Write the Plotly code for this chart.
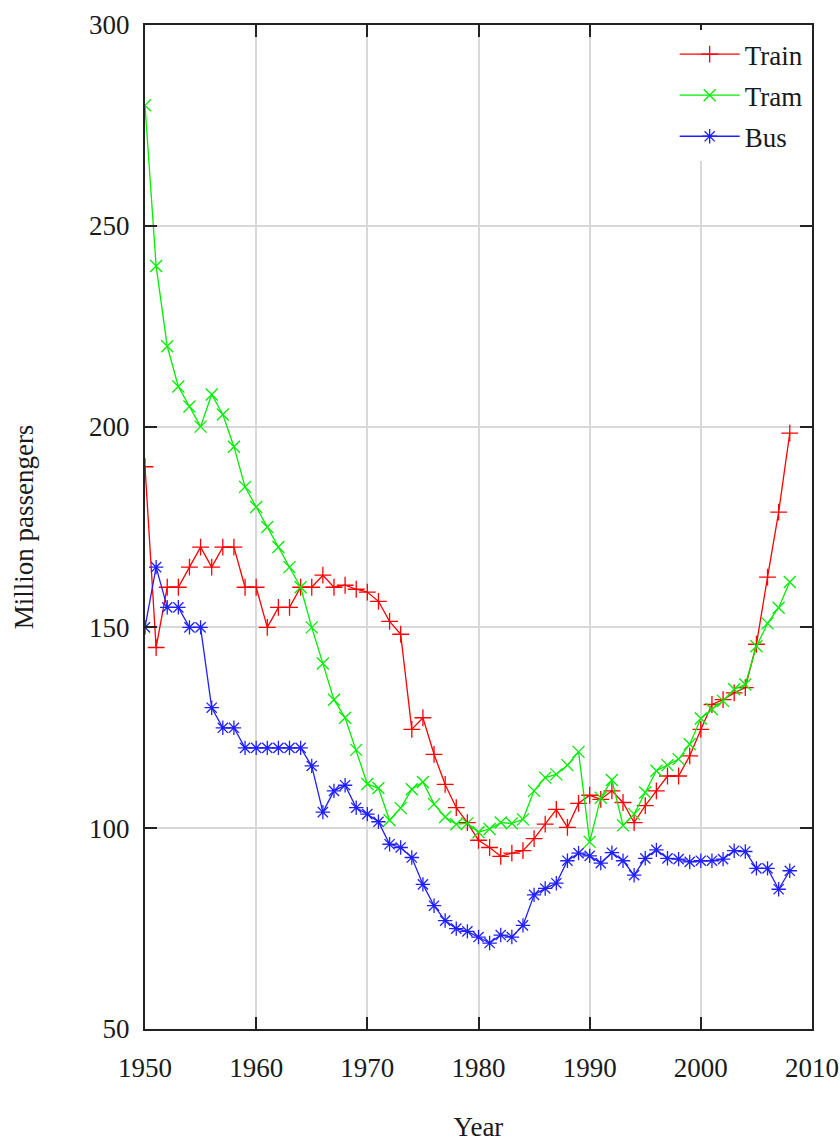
import plotly.graph_objects as go

years = [1950, 1951, 1952, 1953, 1954, 1955, 1956, 1957, 1958, 1959,
         1960, 1961, 1962, 1963, 1964, 1965, 1966, 1967, 1968, 1969,
         1970, 1971, 1972, 1973, 1974, 1975, 1976, 1977, 1978, 1979,
         1980, 1981, 1982, 1983, 1984, 1985, 1986, 1987, 1988, 1989,
         1990, 1991, 1992, 1993, 1994, 1995, 1996, 1997, 1998, 1999,
         2000, 2001, 2002, 2003, 2004, 2005, 2006, 2007, 2008]

train = [190, 145, 160, 160, 165, 170, 165, 170, 170, 160,
         160, 150, 155, 155, 160, 160, 163, 160, 160.5, 159.5,
         158.8, 156.5, 151.5, 148.3, 124.6, 127.5, 118.4, 110.9, 105.1, 101.4,
         97, 95.2, 93, 93.8, 94.4, 97.4, 101, 104.7, 100.2, 106.2,
         108.2, 107.2, 109.3, 106.4, 101.4, 105.6, 109.3, 113, 113, 118,
         124.6, 130.8, 132, 133.7, 135, 145.8, 162.5, 178.7, 198.4]

tram = [280, 240, 220, 210, 205, 200, 208, 203, 195, 185,
        180, 175, 170, 165, 160, 150, 141, 132, 127.5, 119.5,
        111, 110, 102, 105, 109.7, 111.5, 106, 102.8, 101, 101.2,
        99, 99.8, 101.4, 101.2, 102.2, 109.3, 112.6, 113.4, 115.7, 119,
        96.6, 107.6, 112, 100.7, 103.5, 108.9, 114.3, 115.7, 117.2, 120.9,
        127.3, 129.6, 131.7, 134.6, 135.8, 145.3, 151, 154.9, 161.3]

bus = [150, 165, 155, 155, 150, 150, 130, 125, 125, 120,
       120, 120, 120, 120, 120, 115.5, 104, 109.3, 110.7, 105.1,
       103.5, 101.6, 96, 95.2, 92.7, 86, 80.7, 77, 75, 74.3,
       72.9, 71.4, 73.4, 72.9, 75.8, 83.4, 85, 86.3, 91.9, 93.8,
       93.1, 91.3, 93.9, 91.9, 88.3, 92.5, 94.6, 92.5, 92.3, 91.6,
       91.9, 91.9, 92.3, 94.4, 94.2, 90, 90, 84.8, 89.4]

x_ticks = [1950, 1960, 1970, 1980, 1990, 2000, 2010]
y_ticks = [50, 100, 150, 200, 250, 300]

series = [
    ("Train", train, "#ff0000", "cross-thin"),
    ("Tram", tram, "#00ee00", "x-thin"),
    ("Bus", bus, "#2020ff", "asterisk"),
]

FONT = "Liberation Serif"
FS = 27

fig = go.Figure()
for i, (name, vals, color, sym) in enumerate(series):
    fig.add_trace(go.Scatter(
        x=years, y=vals, name=name, mode="lines+markers",
        legendgroup=name,
        line=dict(color=color, width=1.3),
        marker=dict(symbol=sym, size=12, color=color,
                    line=dict(color=color, width=1.3)),
    ))

axis_common = dict(
    showline=True, linecolor="#222222", linewidth=2, mirror="ticks",
    ticks="inside", ticklen=12, tickwidth=1.5, tickcolor="#222222",
    showgrid=True, gridcolor="#d8d8d8", gridwidth=1.5,
    zeroline=False, automargin=False,
    tickfont=dict(family=FONT, size=FS, color="#1a1a1a"),
)

fig.update_layout(
    width=840, height=1142,
    margin=dict(l=145, r=28, t=25, b=113),
    paper_bgcolor="white", plot_bgcolor="white",
    font=dict(family=FONT, size=FS, color="#1a1a1a"),
    showlegend=True,
    legend=dict(
        x=0.995, xanchor="right", y=0.995, yanchor="top",
        bgcolor="white", borderwidth=0,
        font=dict(family=FONT, size=FS, color="#1a1a1a"),
        traceorder="grouped", tracegroupgap=3,
        itemwidth=60,
    ),
    xaxis=dict(
        range=[1950, 2010], tickvals=x_ticks,
        title=dict(text="Year", standoff=43,
                   font=dict(family=FONT, size=FS, color="#1a1a1a")),
        ticklabelstandoff=14,
        **axis_common,
    ),
    yaxis=dict(
        range=[50, 300], tickvals=y_ticks,
        title=dict(text="Million passengers", standoff=48,
                   font=dict(family=FONT, size=FS, color="#1a1a1a")),
        ticklabelstandoff=8,
        **axis_common,
    ),
)

fig.write_html(
    "out.html",
    config={"displayModeBar": False},
    post_script="document.body.style.margin='0';document.body.style.overflow='hidden';",
)
